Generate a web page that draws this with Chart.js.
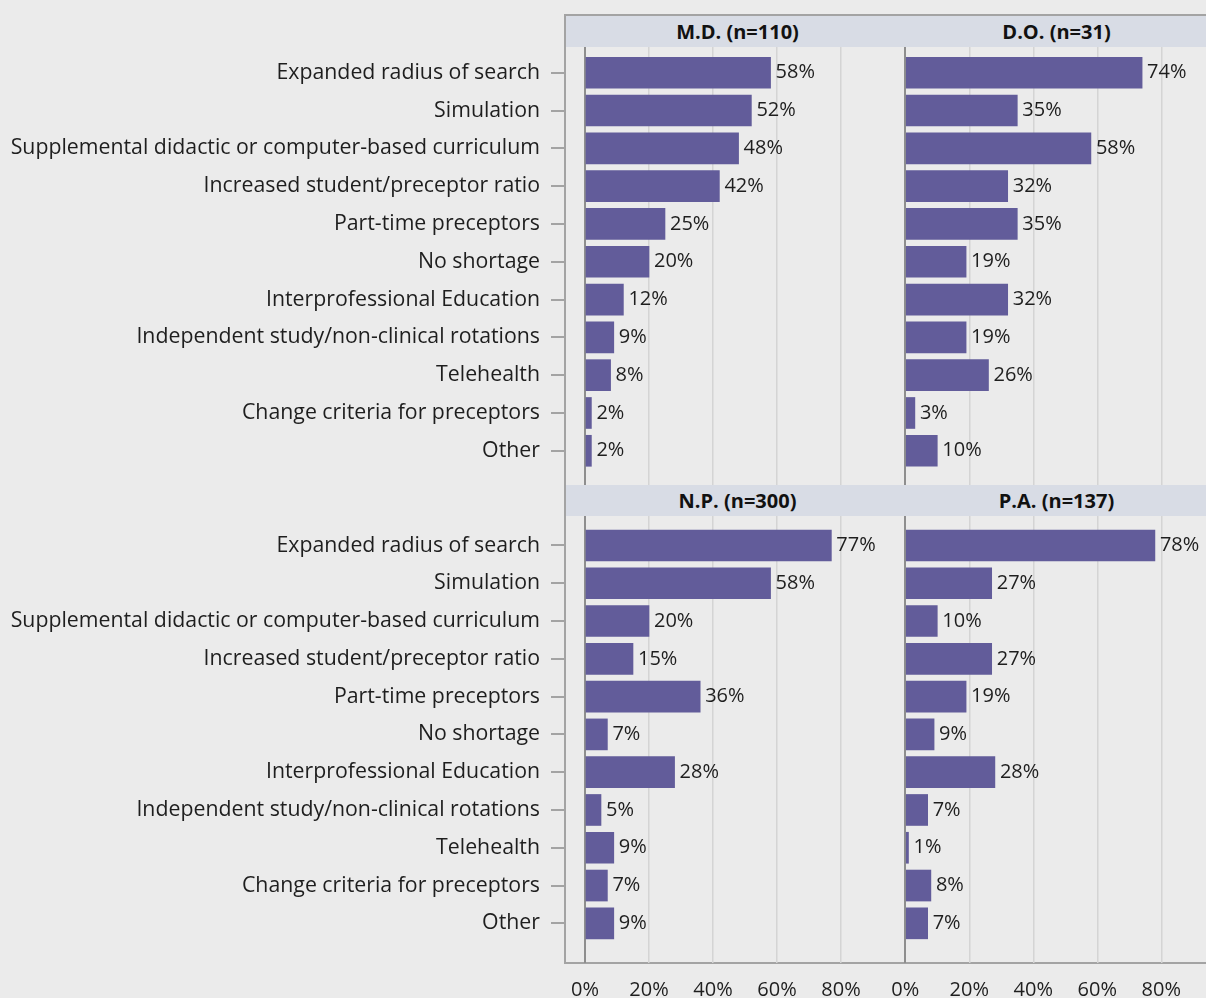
<!DOCTYPE html>
<html>
<head>
<meta charset="utf-8">
<title>Responses to preceptor shortage</title>
<script src="https://cdn.jsdelivr.net/npm/chart.js@4.4.0/dist/chart.umd.min.js"></script>
<style>
  html, body { margin: 0; padding: 0; background: #ebebeb; overflow: hidden; }
  body { width: 1206px; height: 998px; position: relative; font-family: "Open Sans", sans-serif; }
  .frame { position: absolute; left: 564px; top: 14px; width: 700px; height: 946px;
           border-left: 2px solid #a3a3a3; border-top: 2px solid #a3a3a3; border-bottom: 2px solid #a3a3a3; }
  .strip { position: absolute; left: 566px; width: 660px; height: 31px; background: #d8dce5; }
  .strip span { position: absolute; top: 0; line-height: 31px; text-align: center;
                font-weight: bold; font-size: 20px; color: #111; }
  .box { position: absolute; }
</style>
</head>
<body>
<div class="frame"></div>
<div class="strip" style="top:16px"><span style="left:0;width:343px">M.D. (n=110)</span><span style="left:338px;width:305px">D.O. (n=31)</span></div>
<div class="strip" style="top:485px"><span style="left:0;width:343px">N.P. (n=300)</span><span style="left:338px;width:305px">P.A. (n=137)</span></div>

<div class="box" style="left:0;top:47px;width:904px;height:438px"><canvas id="chartMD"></canvas></div>
<div class="box" style="left:880px;top:47px;width:329px;height:438px"><canvas id="chartDO"></canvas></div>
<div class="box" style="left:0;top:516px;width:904px;height:482px"><canvas id="chartNP"></canvas></div>
<div class="box" style="left:880px;top:516px;width:329px;height:482px"><canvas id="chartPA"></canvas></div>

<script>
var categories = [
    'Expanded radius of search',
    'Simulation',
    'Supplemental didactic or computer-based curriculum',
    'Increased student/preceptor ratio',
    'Part-time preceptors',
    'No shortage',
    'Interprofessional Education',
    'Independent study/non-clinical rotations',
    'Telehealth',
    'Change criteria for preceptors',
    'Other'
];
// percent of programs per strategy
var valuesMD = [58, 52, 48, 42, 25, 20, 12, 9, 8, 2, 2];
var valuesDO = [74, 35, 58, 32, 35, 19, 32, 19, 26, 3, 10];
var valuesNP = [77, 58, 20, 15, 36, 7, 28, 5, 9, 7, 9];
var valuesPA = [78, 27, 10, 27, 19, 9, 28, 7, 1, 8, 7];
var xTicks = [0, 20, 40, 60, 80];

Chart.defaults.font.family = '"Open Sans", sans-serif';
Chart.defaults.color = '#1e1e1e';

// write the % value just right of each bar
var valueLabels = {
    id: 'valueLabels',
    afterDatasetsDraw: function (chart) {
        var ctx = chart.ctx;
        var ds = chart.data.datasets[0];
        ctx.save();
        ctx.font = '20px "Open Sans", sans-serif';
        ctx.fillStyle = '#1e1e1e';
        ctx.textAlign = 'left';
        ctx.textBaseline = 'middle';
        chart.getDatasetMeta(0).data.forEach(function (bar, i) {
            ctx.fillText(ds.data[i].x + '%', bar.x + 5, bar.y);
        });
        ctx.restore();
    }
};

function makePanel(id, values, isLeft, isBottom) {
    var ctx = document.getElementById(id).getContext('2d');
    var points = values.map(function (v, i) { return { x: v, y: i }; });

    return new Chart(ctx, {
        type: 'bar',
        data: {
            datasets: [{
                data: points,
                backgroundColor: '#625c9a',
                borderWidth: 0,
                barThickness: 31
            }]
        },
        options: {
            indexAxis: 'y',
            animation: false,
            responsive: true,
            maintainAspectRatio: false,
            layout: { padding: { left: isLeft ? 0 : 24, right: 0, top: 0, bottom: 0 } },
            plugins: { legend: { display: false }, tooltip: { enabled: false } },
            scales: {
                x: {
                    type: 'linear',
                    min: isLeft ? -6.25 : -0.4,
                    max: isLeft ? 99.7 : 94.9,
                    afterBuildTicks: function (axis) {
                        axis.ticks = xTicks.map(function (v) { return { value: v }; });
                    },
                    afterFit: function (scale) {
                        scale.height = isBottom ? 35 : 0;
                        scale.paddingLeft = 0;
                        scale.paddingRight = 0;
                    },
                    border: { display: false },
                    grid: {
                        drawTicks: false,
                        color: function (c) { return c.tick && c.tick.value === 0 ? '#8e8e8e' : '#d4d4d4'; },
                        lineWidth: function (c) { return c.tick && c.tick.value === 0 ? 2 : 1.5; }
                    },
                    ticks: {
                        display: isBottom,
                        padding: 15,
                        font: { size: 20 },
                        color: '#1e1e1e',
                        callback: function (v) { return v + '%'; }
                    }
                },
                y: {
                    type: 'linear',
                    reverse: true,
                    offset: false,
                    display: isLeft,
                    min: isBottom ? -0.78 : -0.68,
                    max: isBottom ? 11.05 : 10.905,
                    afterBuildTicks: function (axis) {
                        axis.ticks = categories.map(function (c, i) { return { value: i }; });
                    },
                    afterFit: function (scale) {
                        if (isLeft) scale.width = 565;
                        scale.paddingTop = 0;
                        scale.paddingBottom = 0;
                    },
                    border: { display: false },
                    grid: {
                        offset: false,
                        drawOnChartArea: false,
                        drawTicks: true,
                        tickLength: 14,
                        color: '#a3a3a3',
                        lineWidth: 2
                    },
                    ticks: {
                        padding: 11,
                        font: { size: 21.3 },
                        color: '#1e1e1e',
                        callback: function (v) { return categories[v]; }
                    }
                }
            }
        },
        plugins: [valueLabels]
    });
}

makePanel('chartMD', valuesMD, true, false);
makePanel('chartDO', valuesDO, false, false);
makePanel('chartNP', valuesNP, true, true);
makePanel('chartPA', valuesPA, false, true);
</script>
</body>
</html>
